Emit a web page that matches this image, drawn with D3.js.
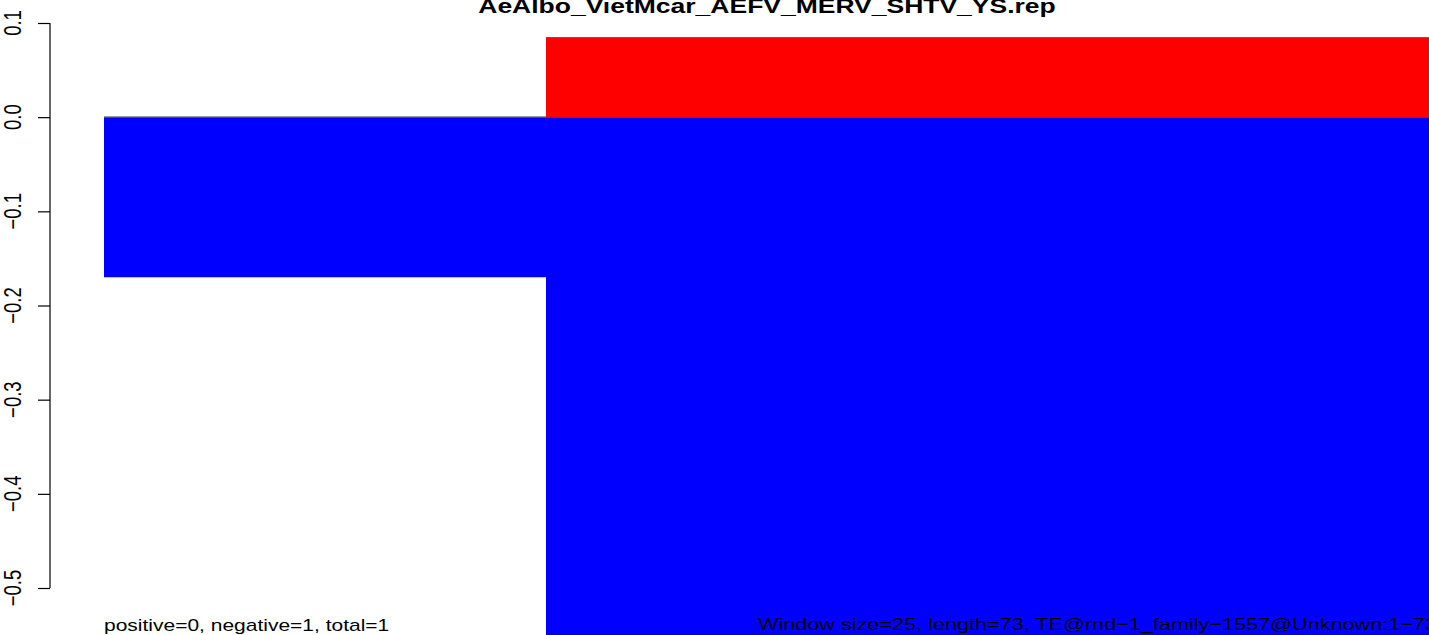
<!DOCTYPE html>
<html>
<head>
<meta charset="utf-8">
<script src="https://cdn.jsdelivr.net/npm/d3@7"></script>
<style>
  body { margin: 0; background: #fff; }
  svg { display: block; font-family: "Liberation Sans", Arial, Helvetica, sans-serif; }
</style>
</head>
<body>
<div id="chart"></div>
<script>
// windows along the sequence (start / end positions)
var winStart = [1, 25];
var winEnd = [25, 73];
// per-window scores
var positive = [0, 0.085];
var negative = [-0.17, -0.75];
var yTicks = [0.1, 0.0, -0.1, -0.2, -0.3, -0.4, -0.5];

var title = "AeAlbo_VietMcar_AEFV_MERV_SHTV_YS.rep";
var leftNote = "positive=0, negative=1, total=1";
var rightNote = "Window size=25, length=73, TE@rnd\u22121_family\u22121557@Unknown:1\u221273";

var W = 1429, H = 635;
var sx = 1.28; // the picture is wider than tall text would suggest

var svg = d3.select("#chart").append("svg")
    .attr("width", W)
    .attr("height", H);

var x = d3.scaleLinear().domain([1, 73]).range([104, 1430]);
var y = d3.scaleLinear().domain([-0.5, 0.1]).range([588, 23]);

var data = winStart.map(function(s, i) {
    return { start: s, end: winEnd[i], pos: positive[i], neg: negative[i] };
});

// negative part (blue)
svg.selectAll(".neg")
    .data(data)
    .enter().append("rect")
    .attr("class", "neg")
    .attr("x", function(d) { return x(d.start); })
    .attr("width", function(d) { return x(d.end) - x(d.start); })
    .attr("y", y(0))
    .attr("height", function(d) { return y(d.neg) - y(0); })
    .style("fill", "#0000ff");

// positive part (red)
svg.selectAll(".pos")
    .data(data.filter(function(d) { return d.pos > 0; }))
    .enter().append("rect")
    .attr("class", "pos")
    .attr("x", function(d) { return x(d.start); })
    .attr("width", function(d) { return x(d.end) - x(d.start); })
    .attr("y", function(d) { return y(d.pos); })
    .attr("height", function(d) { return y(0) - y(d.pos); })
    .style("fill", "#ff0000");

// thin edge on top of the first bar
svg.append("line")
    .attr("x1", x(winStart[0])).attr("x2", x(winEnd[0]))
    .attr("y1", y(0) - 0.5).attr("y2", y(0) - 0.5)
    .style("stroke", "#8a8a8a")
    .style("stroke-width", 1);

// y axis
var yAxis = svg.append("g")
    .attr("transform", "translate(50,0)")
    .call(d3.axisLeft(y).tickValues(yTicks).tickSize(12).tickFormat(""));
yAxis.select(".domain").attr("d", "M0," + y(0.1) + "V" + y(-0.5)).style("stroke-width", 1.2);
yAxis.selectAll(".tick line").style("stroke-width", 1.2);

svg.selectAll(".ylab")
    .data(yTicks)
    .enter().append("text")
    .attr("class", "ylab")
    .attr("transform", function(d) {
        return "translate(21," + y(d) + ") scale(" + sx + ",1) rotate(-90)";
    })
    .attr("text-anchor", "middle")
    .style("font-size", "18.5px")
    .text(function(d) { return d3.format(".1f")(d).replace("-", "\u2212"); });

// title (cut at the top edge, as in the original)
svg.append("text")
    .attr("transform", "translate(767,13) scale(" + sx + ",1)")
    .attr("text-anchor", "middle")
    .style("font-size", "20.7px")
    .style("font-weight", "bold")
    .text(title);

// notes under the plot
svg.append("text")
    .attr("transform", "translate(104,631) scale(" + sx + ",1)")
    .style("font-size", "16.4px")
    .text(leftNote);

svg.append("text")
    .attr("transform", "translate(758,630) scale(" + sx + ",1)")
    .style("font-size", "16.9px")
    .text(rightNote);
</script>
</body>
</html>
